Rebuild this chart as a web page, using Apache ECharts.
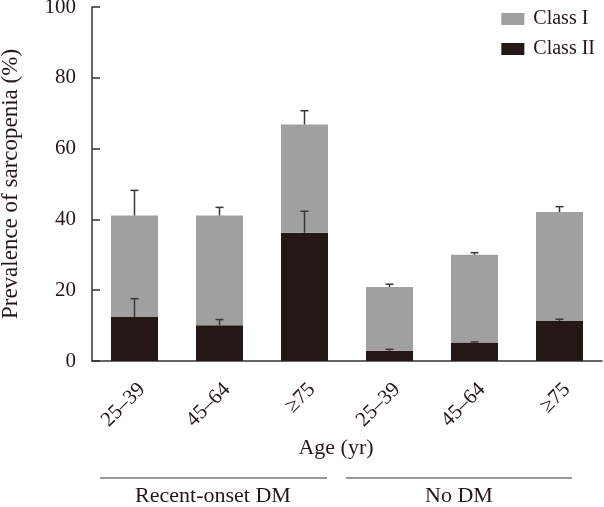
<!DOCTYPE html>
<html>
<head>
<meta charset="utf-8">
<script src="https://cdn.jsdelivr.net/npm/echarts@6/dist/echarts.min.js"></script>
<style>
html,body{margin:0;padding:0;background:#fff;}
#chart{width:604px;height:507px;}
</style>
</head>
<body>
<div id="chart"></div>
<script>
// ---- data ----
var categories = ['25–39', '45–64', '≥75', '25–39', '45–64', '≥75'];
var groups = ['Recent-onset DM', 'No DM'];
var classII = [12.4, 10.1, 36.2, 2.9, 5.2, 11.3];
var classI  = [28.7, 31.0, 30.6, 18.0, 24.8, 30.8];
var errClassII = [5.2, 1.6, 6.1, 0.4, 0.2, 0.5];
var errTotal   = [7.1, 2.3, 3.9, 0.8, 0.6, 1.5];
var yTicks = [0, 20, 40, 60, 80, 100];

var FONT = '"Liberation Serif", "DejaVu Serif", serif';
var TXT = '#231815';
var GRAY = '#a0a0a0';
var DARK = '#231815';

var errData = [];
for (var i = 0; i < categories.length; i++) {
  var t = classII[i] + classI[i];
  errData.push([i, classII[i], classII[i] + errClassII[i]]);
  errData.push([i, t, t + errTotal[i]]);
}

var chart = echarts.init(document.getElementById('chart'));

function renderErr(params, api) {
  var x = api.value(0);
  var p0 = api.coord([x, api.value(1)]);
  var p1 = api.coord([x, api.value(2)]);
  var cap = 4;
  var st = {stroke: '#3a3636', lineWidth: 1.5};
  return {
    type: 'group',
    children: [
      {type: 'line', shape: {x1: p0[0], y1: p0[1], x2: p1[0], y2: p1[1]}, style: st},
      {type: 'line', shape: {x1: p1[0] - cap, y1: p1[1], x2: p1[0] + cap, y2: p1[1]}, style: st}
    ]
  };
}

var option = {
  animation: false,
  backgroundColor: '#fff',
  grid: {left: 92, right: 2, top: 7, bottom: 146, containLabel: false, outerBoundsMode: 'none'},
  legend: {
    orient: 'vertical',
    right: 4,
    top: 4,
    itemWidth: 23,
    itemHeight: 12,
    itemGap: 10,
    icon: 'rect',
    data: ['Class I', 'Class II'],
    textStyle: {fontFamily: FONT, fontSize: 20, color: TXT, padding: [0, 0, 0, 4]}
  },
  xAxis: {
    type: 'category',
    data: categories,
    axisLine: {lineStyle: {color: '#333', width: 1.5}},
    axisTick: {show: false},
    axisLabel: {rotate: 45, margin: 18, fontFamily: FONT, fontSize: 21, color: TXT, interval: 0,
      verticalAlign: 'top'}
  },
  yAxis: {
    type: 'value',
    min: 0, max: 100, interval: 20,
    name: 'Prevalence of sarcopenia (%)',
    nameLocation: 'middle',
    nameGap: 70,
    nameTextStyle: {fontFamily: FONT, fontSize: 23, color: TXT},
    axisLine: {show: true, lineStyle: {color: '#333', width: 1.5}},
    axisTick: {show: true, inside: true, length: 8, lineStyle: {color: '#333', width: 1.5}},
    splitLine: {show: false},
    axisLabel: {margin: 16, fontFamily: FONT, fontSize: 21, color: TXT,
      customValues: yTicks}
  },
  series: [
    {name: 'Class II', type: 'bar', stack: 'a', barWidth: 47, data: classII, itemStyle: {color: DARK}},
    {name: 'Class I', type: 'bar', stack: 'a', barWidth: 47, data: classI, itemStyle: {color: GRAY}},
    {type: 'custom', renderItem: renderErr, data: errData, z: 10, encode: {x: 0, y: [1, 2]}, silent: true}
  ],
  graphic: [
    {type: 'text', x: 336, y: 448, style: {text: 'Age (yr)', font: '22px ' + FONT, fill: TXT, align: 'center', verticalAlign: 'middle'}},
    {type: 'line', shape: {x1: 100, y1: 478, x2: 327, y2: 478}, style: {stroke: '#333', lineWidth: 1.2}},
    {type: 'line', shape: {x1: 346, y1: 478, x2: 572, y2: 478}, style: {stroke: '#333', lineWidth: 1.2}},
    {type: 'text', x: 213, y: 496, style: {text: groups[0], font: '22px ' + FONT, fill: TXT, align: 'center', verticalAlign: 'middle'}},
    {type: 'text', x: 459, y: 496, style: {text: groups[1], font: '22px ' + FONT, fill: TXT, align: 'center', verticalAlign: 'middle'}}
  ]
};
chart.setOption(option);
</script>
</body>
</html>
